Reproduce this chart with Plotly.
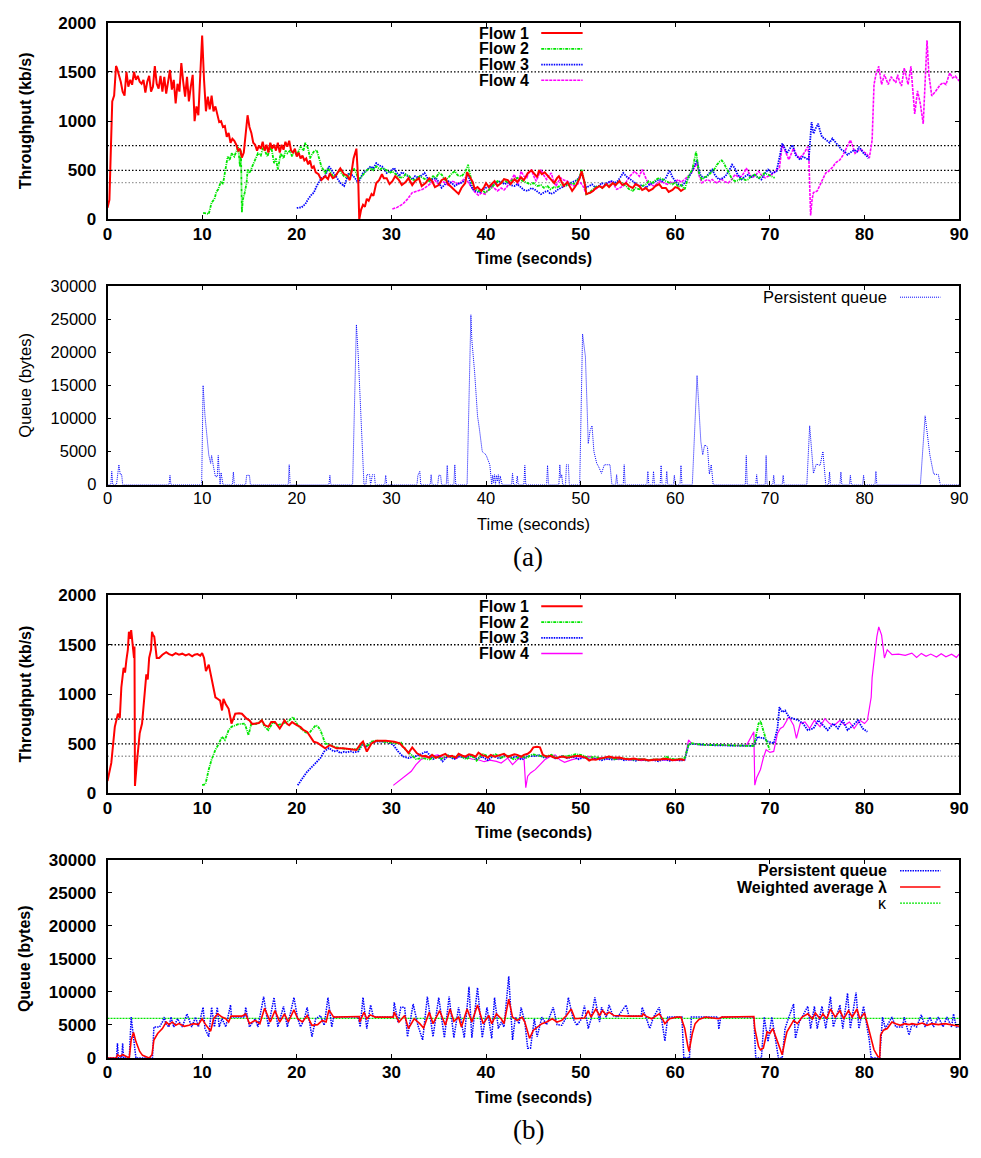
import plotly.graph_objects as go

W, H = 981, 1158

# ---------------------------------------------------------------- data
# fair-share reference levels (kb/s) drawn across the throughput panels
fair_share = [1500, 750, 500, 375]
kappa_level = 6000

x_ticks = [0, 10, 20, 30, 40, 50, 60, 70, 80, 90]
thr_ticks = [0, 500, 1000, 1500, 2000]
queue_ticks = [0, 5000, 10000, 15000, 20000, 25000, 30000]

# (a) throughput per flow: (time s, kb/s)
flow1_a = [(0.0,120),(0.2,200),(0.35,700),(0.5,1200),(0.7,1260),(0.9,1560),(1.0,1540),(1.2,1480),(1.4,1400),(1.6,1300),(1.8,1260),(2.0,1500),(2.2,1350),(2.4,1420),(2.6,1370),(2.8,1500),(3.0,1420),(3.2,1460),(3.4,1400),(3.6,1380),(3.8,1420),(4.0,1290),(4.2,1400),(4.4,1460),(4.6,1300),(4.8,1350),(5.0,1560),(5.2,1380),(5.4,1330),(5.6,1460),(5.8,1300),(6.0,1450),(6.2,1280),(6.4,1400),(6.6,1520),(6.8,1320),(7.0,1420),(7.2,1180),(7.4,1380),(7.6,1300),(7.8,1590),(8.0,1400),(8.2,1250),(8.4,1450),(8.6,1200),(8.8,1350),(9.0,1470),(9.2,1000),(9.4,1150),(9.6,1060),(9.8,1400),(10.0,1870),(10.2,1420),(10.4,1100),(10.6,1250),(10.8,1120),(11.0,1260),(11.2,1100),(11.4,1150),(11.6,1050),(11.8,990),(12.0,1000),(12.2,940),(12.4,950),(12.6,840),(12.8,880),(13.0,780),(13.2,820),(13.4,800),(13.6,760),(13.8,700),(14.0,720),(14.2,630),(14.4,680),(14.6,900),(14.8,1060),(15.0,940),(15.2,880),(15.4,780),(15.6,760),(15.8,700),(16.0,750),(16.2,720),(16.4,790),(16.6,700),(16.8,760),(17.0,680),(17.2,780),(17.4,720),(17.6,760),(17.8,700),(18.0,780),(18.2,680),(18.4,760),(18.6,710),(18.8,790),(19.0,740),(19.2,800),(19.4,700),(19.6,680),(19.8,720),(20.0,640),(20.2,680),(20.4,620),(20.6,650),(20.8,600),(21.0,620),(21.2,560),(21.4,600),(21.6,520),(21.8,540),(22.0,480),(22.3,460),(22.6,400),(23.0,440),(23.3,410),(23.5,470),(23.8,420),(24.0,430),(24.3,470),(24.6,520),(25.0,460),(25.3,450),(25.6,400),(25.8,490),(26.0,620),(26.3,720),(26.5,380),(26.6,0),(26.8,100),(27.0,150),(27.2,130),(27.4,210),(27.6,190),(27.9,260),(28.1,240),(28.4,370),(28.7,400),(29.0,460),(29.2,420),(29.5,420),(29.8,360),(30.1,390),(30.4,440),(30.8,400),(31.1,350),(31.5,380),(31.8,420),(32.2,350),(32.5,390),(32.9,420),(33.2,340),(33.6,370),(34.0,420),(34.3,390),(34.6,330),(35.0,350),(35.3,400),(35.7,420),(36.0,360),(36.4,320),(36.7,300),(37.1,260),(37.4,320),(37.8,370),(38.0,480),(38.3,430),(38.6,380),(38.8,310),(39.1,330),(39.5,290),(39.8,330),(40.0,370),(40.3,330),(40.5,350),(40.9,390),(41.2,340),(41.6,370),(41.9,410),(42.3,400),(42.6,360),(43.0,410),(43.3,380),(43.7,430),(44.0,400),(44.4,470),(44.8,500),(45.1,470),(45.4,430),(45.6,500),(45.9,460),(46.2,480),(46.5,450),(46.7,420),(47.0,400),(47.2,370),(47.5,420),(47.7,440),(48.0,380),(48.2,340),(48.6,380),(48.9,330),(49.1,290),(49.4,330),(49.6,360),(49.9,420),(50.1,490),(50.4,380),(50.6,260),(51.0,270),(51.3,290),(51.6,320),(52.0,340),(52.3,320),(52.7,360),(53.0,330),(53.4,370),(53.7,350),(54.1,390),(54.4,350),(54.8,370),(55.1,340),(55.5,320),(55.8,360),(56.2,340),(56.5,300),(56.9,320),(57.2,290),(57.6,310),(57.9,340),(58.3,360),(58.6,320),(59.0,320),(59.3,280),(59.7,300),(60.0,330),(60.3,320),(60.6,290),(60.9,310)]

flow2_a = [(10.1,67),(10.4,60),(10.7,57),(11.0,173),(11.3,207),(11.5,280),(11.7,307),(12.0,390),(12.2,360),(12.4,473),(12.7,640),(12.9,600),(13.1,673),(13.4,640),(13.6,700),(13.8,740),(14.0,540),(14.1,707),(14.2,73),(14.3,200),(14.5,273),(14.7,373),(14.8,507),(15.0,470),(15.3,540),(15.6,600),(15.9,673),(16.2,650),(16.4,720),(16.6,707),(16.9,640),(17.1,700),(17.3,740),(17.6,573),(17.8,620),(18.0,507),(18.3,673),(18.6,620),(18.8,700),(19.0,673),(19.3,700),(19.5,640),(19.7,707),(20.0,650),(20.2,700),(20.4,740),(20.7,700),(20.9,780),(21.2,720),(21.4,623),(21.6,660),(21.8,690),(22.1,707),(22.3,640),(22.6,540),(23.0,473),(23.3,520),(23.5,490),(23.9,430),(24.2,457),(24.5,500),(24.7,473),(25.0,440),(25.3,423),(25.6,470),(26.0,523),(26.3,470),(26.5,407),(26.8,430),(27.0,457),(27.4,500),(27.8,523),(28.1,500),(28.4,540),(28.8,510),(29.1,523),(29.5,500),(29.8,473),(30.1,490),(30.5,457),(30.8,430),(31.2,423),(31.5,460),(31.9,440),(32.2,400),(32.6,407),(33.0,440),(33.3,423),(33.7,400),(34.0,390),(34.4,440),(34.7,423),(35.0,470),(35.3,457),(35.7,400),(36.0,423),(36.4,470),(36.7,490),(37.0,450),(37.4,440),(37.8,480),(38.1,557),(38.4,420),(38.6,340),(38.9,310),(39.2,290),(39.6,300),(39.9,273),(40.3,300),(40.6,323),(40.9,360),(41.2,390),(41.6,370),(41.9,407),(42.2,380),(42.6,390),(43.0,410),(43.3,423),(43.7,400),(44.0,390),(44.4,370),(44.7,357),(45.0,370),(45.4,340),(45.8,350),(46.1,323),(46.5,340),(46.8,307),(47.2,330),(47.5,323),(47.9,350),(48.2,357),(48.6,340),(48.9,373),(49.3,360),(49.6,390),(49.9,430),(50.1,507),(50.4,380),(50.6,257),(51.0,280),(51.3,307),(51.6,330),(52.0,340),(52.3,320),(52.7,357),(53.0,340),(53.4,373),(53.7,350),(54.1,390),(54.4,370),(54.8,340),(55.1,310),(55.5,290),(55.8,320),(56.2,307),(56.5,340),(56.9,357),(57.2,390),(57.6,373),(57.9,400),(58.3,423),(58.6,410),(59.0,390),(59.3,370),(59.7,357),(60.0,380),(60.3,330),(60.6,350),(61.0,307),(61.4,440),(61.8,507),(62.0,600),(62.2,690),(62.5,473),(62.8,407),(63.1,430),(63.4,440),(63.7,470),(63.9,490),(64.2,520),(64.4,557),(64.7,590),(64.9,600),(65.1,580),(65.3,540),(65.6,480),(65.8,440),(66.0,410),(66.3,390),(66.7,400),(67.0,423),(67.4,400),(67.7,407),(68.0,440),(68.4,457),(68.8,420),(69.1,440),(69.4,470),(69.8,457),(70.1,440),(70.5,423)]

flow3_a = [(20.0,117),(20.5,123),(20.9,157),(21.2,207),(21.6,257),(21.8,273),(22.1,340),(22.3,373),(22.6,420),(23.0,440),(23.4,540),(23.9,473),(24.3,420),(24.6,373),(25.0,340),(25.5,473),(26.0,440),(26.5,373),(27.0,473),(27.4,500),(27.8,540),(28.1,520),(28.4,573),(28.7,550),(29.0,540),(29.5,473),(30.0,500),(30.3,523),(30.8,440),(31.1,480),(31.5,457),(31.9,430),(32.2,407),(32.5,440),(32.9,423),(33.2,450),(33.5,473),(34.0,390),(34.3,410),(34.7,423),(35.0,380),(35.3,323),(35.7,360),(36.0,390),(36.4,370),(36.7,340),(37.0,360),(37.4,373),(37.8,400),(38.1,457),(38.4,350),(38.6,307),(38.9,290),(39.3,273),(39.6,300),(40.0,323),(40.5,340),(40.9,357),(41.2,380),(41.6,390),(41.9,360),(42.3,373),(42.6,350),(43.0,340),(43.3,360),(43.7,323),(44.0,300),(44.4,290),(44.8,320),(45.1,307),(45.5,280),(45.8,257),(46.2,280),(46.5,290),(46.8,260),(47.2,273),(47.5,300),(47.9,323),(48.2,340),(48.6,357),(48.9,370),(49.3,390),(49.6,400),(49.8,423),(50.1,473),(50.4,380),(50.6,323),(50.9,340),(51.2,357),(51.5,330),(51.9,340),(52.2,370),(52.6,357),(52.9,380),(53.3,390),(53.6,370),(53.9,390),(54.2,430),(54.5,473),(54.8,440),(55.0,423),(55.3,400),(55.5,390),(55.9,360),(56.2,340),(56.5,350),(56.9,323),(57.2,350),(57.6,373),(57.9,390),(58.3,407),(58.6,390),(59.0,423),(59.4,500),(59.7,430),(60.0,390),(60.3,360),(60.7,340),(61.0,380),(61.4,423),(61.8,500),(62.1,560),(62.3,607),(62.5,500),(62.7,440),(63.0,430),(63.2,423),(63.5,460),(63.9,507),(64.2,450),(64.6,407),(65.0,420),(65.3,440),(65.7,500),(66.0,557),(66.3,520),(66.5,473),(66.8,430),(67.0,407),(67.4,440),(67.7,457),(68.0,430),(68.4,457),(68.7,430),(69.1,407),(69.4,460),(69.8,507),(70.2,470),(70.7,490),(71.1,673),(71.3,773),(71.6,720),(71.8,673),(72.1,720),(72.4,757),(72.7,657),(73.0,630),(73.2,607),(73.5,640),(73.8,623),(74.1,607),(74.4,990),(74.6,873),(74.8,920),(75.1,973),(75.3,900),(75.5,840),(75.8,820),(76.0,807),(76.3,780),(76.6,823),(76.9,790),(77.1,773),(77.4,740),(77.6,707),(77.9,690),(78.2,657),(78.5,680),(78.9,707),(79.2,690),(79.4,740),(79.7,700),(79.9,673),(80.2,650),(80.4,623)]

flow4_a = [(30.1,107),(30.6,123),(31.2,157),(31.7,207),(32.2,273),(32.8,290),(33.3,307),(33.8,340),(34.3,373),(34.6,400),(35.0,357),(35.3,390),(35.7,373),(36.0,350),(36.4,390),(36.7,380),(37.1,357),(37.4,390),(37.8,423),(38.1,380),(38.5,323),(38.8,280),(39.2,247),(39.5,270),(39.9,257),(40.2,300),(40.6,340),(40.9,310),(41.2,290),(41.6,320),(41.9,300),(42.2,330),(42.5,373),(43.0,457),(43.2,400),(43.4,357),(43.7,490),(44.0,440),(44.3,423),(44.5,470),(44.8,507),(45.0,450),(45.3,390),(45.6,470),(45.8,507),(46.1,450),(46.4,407),(46.6,440),(46.9,473),(47.1,400),(47.4,340),(47.6,380),(47.9,423),(48.2,400),(48.6,390),(48.9,360),(49.3,340),(49.6,360),(50.0,373),(50.3,330),(50.6,257),(50.9,270),(51.3,290),(51.6,310),(52.0,340),(52.3,330),(52.7,357),(53.0,370),(53.3,390),(53.6,340),(53.8,307),(54.1,320),(54.5,340),(54.8,380),(55.2,440),(55.5,470),(55.7,490),(56.0,460),(56.2,440),(56.5,507),(56.8,430),(57.1,373),(57.4,350),(57.8,340),(58.1,370),(58.5,390),(58.8,370),(59.2,357),(59.5,380),(59.9,373),(60.3,407),(60.6,380),(60.9,400),(61.4,440),(61.7,470),(61.9,507),(62.3,573),(62.5,450),(62.8,373),(63.1,390),(63.4,407),(63.7,390),(63.9,407),(64.2,380),(64.4,373),(64.7,390),(64.9,407),(65.3,380),(65.6,373),(66.0,410),(66.3,457),(66.7,430),(67.0,440),(67.3,480),(67.5,523),(67.8,470),(68.1,423),(68.5,450),(68.8,490),(69.1,450),(69.5,423),(69.8,440),(70.2,457),(70.5,480),(70.7,507),(71.0,523),(71.3,757),(71.6,700),(71.8,657),(72.0,607),(72.3,680),(72.5,723),(72.8,660),(73.1,623),(73.4,650),(73.6,673),(74.0,740),(74.1,673),(74.3,40),(74.45,200),(74.6,273),(75.0,290),(75.4,373),(75.7,430),(75.9,473),(76.2,490),(76.4,507),(76.7,540),(76.9,573),(77.2,590),(77.4,607),(77.7,650),(78.0,707),(78.3,760),(78.5,807),(78.7,760),(79.0,673),(79.3,700),(79.7,707),(80.0,680),(80.2,673),(80.5,623),(80.8,807),(81.0,1373),(81.2,1473),(81.5,1557),(81.8,1373),(82.1,1473),(82.3,1420),(82.5,1373),(82.8,1450),(83.0,1423),(83.3,1390),(83.5,1473),(83.7,1400),(83.9,1357),(84.2,1540),(84.4,1450),(84.6,1373),(84.9,1557),(85.1,1300),(85.3,1073),(85.6,1307),(85.9,1173),(86.2,973),(86.4,1473),(86.6,1823),(86.8,1473),(87.1,1257),(87.4,1290),(87.6,1320),(87.8,1340),(88.0,1370),(88.3,1390),(88.6,1373),(88.8,1430),(89.0,1490),(89.3,1440),(89.6,1457),(89.8,1430),(90.0,1407)]

# (a) persistent queue: (time s, bytes)
queue_a = [(0,0),(0.35,0),(0.45,2000),(0.55,0),(0.95,0),(1.1,2000),(1.2,3000),(1.35,1500),(1.5,1500),(1.6,0),(6.5,0),(6.6,1400),(6.7,0),(9.95,0),(10.1,15000),(10.3,10400),(10.5,6900),(10.7,4500),(10.9,3200),(11.0,4400),(11.2,2700),(11.4,1200),(11.6,1200),(11.7,4400),(11.8,2000),(11.9,0),(12.0,1800),(12.2,0),(13.2,0),(13.3,1900),(13.4,0),(14.6,0),(14.7,1400),(15.0,1400),(15.1,0),(19.1,0),(19.2,3000),(19.3,0),(23.4,0),(23.5,1400),(23.6,0),(25.9,0),(26.1,12000),(26.3,24200),(26.5,19400),(26.8,9400),(27.1,0),(27.3,0),(27.4,1500),(27.7,1500),(27.8,0),(28.0,1500),(28.2,1500),(28.3,0),(29.3,0),(29.4,1400),(29.5,0),(32.7,0),(32.8,1400),(33.0,2000),(33.1,0),(34.1,0),(34.2,1500),(34.3,0),(34.9,0),(35.0,1400),(35.2,1400),(35.3,0),(35.8,0),(35.9,2900),(36.0,0),(36.6,0),(36.7,3000),(36.8,0),(38.0,0),(38.4,25700),(38.5,21900),(38.8,16900),(39.1,10400),(39.3,8400),(39.6,5000),(40.0,4500),(40.4,3000),(40.6,0),(40.7,1400),(40.8,300),(40.9,1500),(41.0,0),(41.1,1400),(41.2,500),(41.3,1500),(41.4,0),(41.5,1300),(41.6,600),(41.7,0),(42.7,0),(42.8,1700),(42.9,0),(43.2,0),(43.3,1300),(43.4,0),(44.0,0),(44.1,2900),(44.2,0),(46.4,0),(46.5,2900),(46.6,0),(47.7,0),(47.8,3000),(47.9,1000),(48.0,1500),(48.1,0),(48.4,0),(48.5,3000),(48.7,3000),(48.8,0),(49.9,0),(50.2,22800),(50.5,19400),(50.7,10900),(50.8,6200),(51.0,8200),(51.2,8900),(51.4,5000),(51.7,3200),(51.9,2700),(52.2,1700),(52.5,3000),(52.9,3000),(53.1,3000),(53.3,0),(53.7,0),(53.8,1500),(53.9,0),(54.5,0),(54.6,3000),(54.7,0),(57.0,0),(57.1,2000),(57.2,0),(57.6,0),(57.7,2000),(57.8,0),(58.4,0),(58.5,2900),(58.6,0),(59.0,0),(59.1,2000),(59.2,0),(59.8,0),(59.9,1400),(60.0,0),(60.5,0),(60.6,2900),(60.7,0),(61.8,0),(62.3,16500),(62.5,10900),(62.7,6500),(62.9,4500),(63.1,6000),(63.4,5700),(63.6,1600),(63.8,3000),(64.0,0),(67.4,0),(67.5,4400),(67.6,0),(68.5,0),(68.6,1500),(68.7,0),(69.5,0),(69.6,4400),(69.7,0),(70.3,0),(70.4,1400),(70.5,0),(71.3,0),(71.4,1400),(71.5,0),(73.9,0),(74.2,8900),(74.6,1700),(74.9,3100),(75.3,2900),(75.6,5000),(75.9,0),(76.2,0),(76.3,1900),(76.4,0),(77.4,0),(77.5,1900),(77.6,0),(78.4,0),(78.5,1400),(78.6,0),(79.8,0),(79.9,1400),(80.0,0),(81.1,0),(81.2,2000),(81.3,0),(85.9,0),(86.4,10400),(86.7,6500),(86.9,4500),(87.3,1600),(87.8,1500),(88.0,0),(90.0,0)]

# (b) throughput per flow: (time s, kb/s)
flow1_b = [(0,126),(0.4,308),(0.77,672),(1.1,804),(1.3,760),(1.46,1069),(1.7,1267),(1.85,1220),(2.0,1350),(2.15,1450),(2.26,1631),(2.4,1560),(2.5,1648),(2.68,1433),(2.8,1367),(2.85,1482),(2.9,76),(3.1,308),(3.4,606),(3.65,705),(3.9,970),(4.1,1201),(4.25,1150),(4.4,1367),(4.6,1450),(4.7,1631),(4.8,1600),(4.94,1582),(5.2,1367),(5.46,1367),(5.8,1400),(6.2,1426),(6.5,1405),(6.85,1393),(7.2,1415),(7.55,1400),(7.9,1410),(8.25,1393),(8.6,1405),(8.95,1383),(9.2,1400),(9.5,1406),(9.8,1390),(10.0,1416),(10.2,1367),(10.4,1234),(10.7,1300),(11.0,1168),(11.4,970),(11.7,950),(11.9,936),(12.1,837),(12.25,953),(12.5,900),(12.8,854),(13.1,705),(13.3,760),(13.5,804),(13.9,810),(14.2,804),(14.7,754),(15.0,738),(15.3,700),(15.6,705),(16.0,710),(16.3,738),(16.6,690),(17.0,672),(17.3,720),(17.7,721),(18.0,680),(18.2,655),(18.5,700),(18.7,738),(19.0,700),(19.2,688),(19.5,720),(19.7,705),(20.0,690),(20.4,670),(20.7,640),(21.1,620),(21.5,560),(21.8,521),(22.2,510),(22.5,488),(23.0,455),(23.5,488),(24.2,455),(24.9,455),(25.6,445),(26.3,438),(26.8,505),(27.0,523),(27.4,422),(27.9,505),(28.4,531),(29.4,531),(30.3,521),(30.9,506),(31.2,471),(31.4,457),(31.8,407),(31.9,422),(32.2,465),(32.7,405),(33.3,374),(33.6,379),(34.0,360),(34.3,389),(34.7,360),(35.0,372),(35.4,390),(35.7,399),(36.0,370),(36.4,379),(36.8,360),(37.1,399),(37.5,380),(37.8,372),(38.2,395),(38.5,389),(38.9,370),(39.2,412),(39.6,385),(39.9,379),(40.2,360),(40.5,389),(40.9,370),(41.2,379),(41.6,395),(41.9,399),(42.3,370),(42.6,379),(43.0,395),(43.3,389),(43.7,370),(44.0,389),(44.4,400),(44.7,422),(45.0,465),(45.4,470),(45.7,465),(46.0,389),(46.4,370),(46.8,379),(47.1,365),(47.5,356),(47.8,368),(48.2,372),(48.5,360),(48.9,366),(49.3,375),(49.9,379),(50.3,365),(50.6,356),(50.9,332),(51.2,345),(51.6,339),(51.9,350),(52.3,356),(52.6,365),(53.0,372),(53.5,360),(54.1,362),(54.6,350),(55.1,346),(55.6,352),(56.2,339),(56.7,345),(57.2,332),(57.8,342),(58.3,339),(58.8,350),(59.3,346),(59.7,335),(60.0,339),(60.6,345),(61.0,335)]

flow2_b = [(10.0,83),(10.35,93),(10.7,242),(11.0,341),(11.4,440),(11.7,490),(12.1,572),(12.4,539),(12.8,639),(13.1,672),(13.8,698),(14.5,705),(14.9,589),(15.2,705),(15.7,700),(16.3,738),(16.6,672),(17.0,639),(17.5,721),(18.0,688),(18.5,705),(19.0,721),(19.6,771),(20.1,688),(20.6,639),(21.1,606),(21.4,620),(21.7,655),(22.0,688),(22.2,680),(22.5,639),(23.0,506),(23.4,490),(23.9,473),(24.6,457),(25.3,447),(26.0,447),(26.5,440),(27.0,506),(27.4,473),(27.9,523),(28.4,533),(29.1,523),(30.0,513),(30.5,506),(31.0,513),(31.5,440),(32.1,390),(32.6,347),(33.3,357),(34.0,341),(34.6,370),(35.3,350),(36.0,385),(36.6,360),(37.2,390),(37.9,345),(38.5,380),(39.0,330),(39.6,400),(40.3,370),(41.0,395),(41.6,360),(42.3,380),(43.0,340),(43.6,375),(44.3,360),(44.9,395),(45.5,380),(46.2,370),(46.9,390),(47.5,360),(48.2,375),(48.9,380),(49.5,395),(50.2,385),(50.8,360),(51.5,370),(52.2,350),(52.9,365),(53.6,345),(54.3,355),(55.0,350),(55.7,340),(56.4,350),(57.1,335),(57.8,345),(58.5,340),(59.0,374),(59.5,350),(60.2,345),(61.0,357),(61.4,490),(61.7,506),(62.5,495),(63.5,488),(64.5,490),(65.5,485),(66.5,482),(67.5,480),(68.3,480),(68.8,705),(69.0,731),(69.3,622),(69.6,539),(70.0,433)]

flow3_b = [(20.1,83),(20.4,126),(21.0,208),(21.5,258),(22.0,308),(22.5,357),(22.9,424),(23.4,457),(23.9,424),(24.3,430),(24.6,407),(25.0,420),(25.3,414),(25.7,425),(26.0,414),(26.5,424),(26.9,490),(27.4,473),(27.7,500),(28.1,523),(28.8,523),(29.5,523),(30.2,490),(30.7,424),(31.2,374),(31.8,357),(32.5,374),(33.0,390),(33.7,424),(34.4,347),(35.0,375),(35.4,323),(36.0,380),(36.6,345),(37.2,375),(37.8,355),(38.4,390),(39.0,350),(39.6,370),(40.2,335),(40.8,380),(41.4,350),(42.0,385),(42.6,360),(43.2,370),(43.8,340),(44.4,380),(45.0,375),(45.6,385),(46.2,360),(46.8,380),(47.4,350),(48.0,375),(48.6,355),(49.2,370),(49.8,345),(50.4,365),(51.0,340),(51.6,355),(52.2,335),(52.8,350),(53.4,340),(54.0,355),(54.6,335),(55.2,345),(55.8,330),(56.4,345),(57.0,330),(57.6,340),(58.2,325),(58.8,345),(59.4,330),(60.0,340),(60.6,330),(61.0,340),(61.4,490),(61.7,500),(62.5,492),(63.5,488),(64.5,485),(65.5,482),(66.5,480),(67.5,478),(68.3,480),(68.7,572),(69.0,560),(69.3,560),(69.8,523),(70.4,506),(70.8,655),(71.0,870),(71.3,821),(71.6,837),(72.0,771),(72.5,754),(73.0,738),(73.5,705),(74.0,639),(74.6,655),(75.1,738),(75.6,688),(76.1,639),(76.7,705),(77.2,655),(77.7,738),(78.2,639),(78.8,688),(79.3,738),(79.8,655),(80.3,622)]

flow4_b = [(30.2,81),(30.8,124),(31.4,174),(32.1,223),(32.6,290),(33.1,339),(33.7,365),(34.2,372),(34.9,389),(35.6,356),(36.2,380),(36.8,350),(37.4,385),(38.0,360),(38.6,345),(39.2,340),(39.8,320),(40.4,335),(41.1,323),(41.6,306),(42.3,356),(42.8,290),(43.3,339),(44.0,372),(44.2,58),(44.4,174),(44.7,207),(45.2,240),(45.7,290),(46.2,339),(46.8,372),(47.3,389),(47.8,339),(48.3,314),(49.1,341),(49.8,357),(50.4,370),(51.0,374),(51.6,347),(52.2,360),(52.8,345),(53.4,355),(54.0,340),(54.6,350),(55.2,335),(55.8,345),(56.4,330),(57.0,340),(57.6,330),(58.2,345),(58.8,335),(59.4,340),(60.0,330),(60.6,340),(61.0,345),(61.4,539),(61.7,506),(62.5,492),(63.5,490),(64.5,487),(65.5,484),(66.5,482),(67.5,480),(68.3,622),(68.4,83),(68.6,159),(69.0,242),(69.3,357),(69.6,440),(70.0,414),(70.4,424),(70.8,606),(71.1,655),(71.4,672),(72.0,771),(72.5,688),(72.8,556),(73.2,705),(73.7,721),(74.2,655),(74.7,738),(75.3,672),(75.8,754),(76.3,705),(76.8,688),(77.4,738),(77.9,688),(78.4,721),(78.9,655),(79.5,738),(80.0,705),(80.3,738),(80.7,970),(80.8,1168),(81.0,1334),(81.3,1582),(81.5,1681),(81.8,1598),(82.1,1367),(82.4,1449),(82.9,1400),(83.6,1406),(84.3,1393),(85.0,1416),(85.5,1373),(86.0,1413),(86.5,1383),(87.0,1406),(87.6,1377),(88.1,1410),(88.6,1378),(89.2,1405),(89.7,1373),(90.0,1405)]

# (b) persistent queue and weighted average lambda: (time s, bytes)
queue_b = [(0,0),(0.95,0),(1.05,2230),(1.15,0),(1.5,0),(1.6,2230),(1.7,0),(2.3,0),(2.5,6190),(2.75,3470),(3.0,0),(4.75,0),(4.9,4700),(5.5,4700),(5.8,5450),(6.0,6190),(6.15,5200),(6.5,4700),(6.7,6190),(7.0,4700),(7.4,5940),(7.9,4700),(8.4,6680),(8.9,4700),(9.3,6190),(9.6,4700),(10.1,7670),(10.3,4460),(10.7,3220),(11.0,7670),(11.3,4700),(11.6,7670),(11.8,4700),(12.1,5940),(12.5,4700),(13.0,8020),(13.1,6200),(14.5,6200),(14.6,7670),(15.0,4700),(15.6,5940),(15.9,4700),(16.5,9300),(17.0,4700),(17.6,9160),(18.0,4700),(18.6,7820),(19.0,4700),(19.7,9160),(20.1,5940),(20.4,4700),(20.8,5940),(21.1,7670),(21.6,3220),(22.0,5940),(22.5,6430),(22.9,4950),(23.3,9160),(23.7,4700),(23.9,6190),(26.5,6190),(26.7,4700),(27.0,9160),(27.4,4460),(27.8,8020),(28.1,6190),(30.2,6190),(30.3,8420),(30.7,5450),(31.0,7670),(31.4,7670),(31.7,3220),(32.3,8170),(32.8,4950),(33.3,2720),(33.8,9300),(34.4,3220),(35.0,9160),(35.6,3070),(36.1,9300),(36.6,3070),(37.1,7670),(37.7,3070),(38.2,10790),(38.5,3070),(39.1,10640),(39.6,3070),(40.1,7670),(40.6,2970),(40.9,9160),(41.3,4460),(41.6,5450),(41.9,4700),(42.4,12380),(42.6,6430),(42.8,2720),(43.1,6190),(43.5,5200),(43.7,7670),(44.1,5450),(44.4,1490),(44.7,1490),(45.1,5940),(45.4,3220),(45.9,6190),(46.4,5050),(47.1,7670),(47.5,5050),(48.0,4950),(48.4,5940),(48.7,9160),(49.2,5940),(49.6,4950),(50.1,5940),(50.4,7920),(50.8,4460),(51.1,5940),(51.5,9160),(52.0,5450),(52.2,7670),(52.7,6190),(53.0,8020),(53.4,6430),(53.9,6190),(54.8,8020),(55.1,6340),(56.4,6340),(56.5,7670),(56.9,6190),(57.3,4460),(57.7,6190),(58.3,7670),(58.6,5450),(58.9,2570),(59.2,6190),(60.7,6190),(60.9,0),(61.5,0),(61.7,6190),(64.5,6190),(64.6,4360),(64.8,6190),(68.3,6190),(68.5,0),(69.1,0),(69.4,6190),(69.8,2480),(70.2,6190),(70.4,4460),(70.9,0),(71.3,0),(71.6,4460),(72.0,6190),(72.5,8170),(72.7,2970),(73.1,5450),(73.4,6190),(74.0,7820),(74.3,4460),(74.7,7820),(75.0,4460),(75.5,7820),(75.9,4460),(76.4,9300),(76.7,4700),(77.4,8020),(77.7,4460),(78.2,9800),(78.5,4460),(79.1,9900),(79.4,4460),(79.9,7820),(80.2,5200),(80.5,2720),(80.7,0),(81.6,0),(81.9,6190),(82.2,4460),(82.9,6190),(83.3,4700),(84.0,4700),(84.2,6190),(84.7,3470),(85.0,5050),(85.5,4700),(86.0,6530),(86.4,4700),(86.9,6190),(87.3,4700),(87.8,6190),(88.3,4700),(88.7,6190),(89.2,4700),(89.4,6680),(89.7,4700),(90.0,4700)]

lambda_b = [(0,0),(0.95,0),(1.05,500),(1.3,250),(1.6,500),(2.0,250),(2.3,0),(2.5,2720),(2.75,3860),(3.0,2480),(3.4,990),(3.7,400),(4.1,100),(4.4,0),(4.7,500),(4.9,2720),(5.3,3710),(5.8,4460),(6.2,5450),(6.5,5050),(6.85,5450),(7.2,4950),(7.55,5200),(8.1,4800),(8.6,4950),(9.1,5200),(9.6,5050),(10.0,5940),(10.3,5200),(10.9,4060),(11.2,5940),(11.65,6680),(12.1,6190),(12.5,5940),(12.8,5450),(13.05,6340),(14.2,6340),(14.6,6680),(15.0,5200),(15.6,5690),(16.1,5200),(16.6,7520),(17.2,5450),(17.7,7180),(18.2,5450),(18.7,6680),(19.1,5450),(19.7,7280),(20.1,5940),(20.6,5450),(21.1,6430),(21.6,4950),(22.2,5050),(22.7,5690),(23.1,5450),(23.4,7280),(23.9,6190),(26.6,6290),(26.65,5450),(27.1,6930),(27.4,5940),(27.75,6530),(28.3,6190),(30.2,6190),(30.3,6930),(30.8,5450),(31.4,6430),(31.8,4460),(32.4,5940),(33.0,5200),(33.4,4550),(34.0,6930),(34.4,5200),(35.1,7180),(35.7,4950),(36.2,7420),(36.6,5550),(37.1,6190),(37.4,4700),(38.0,7420),(38.5,5450),(39.1,8020),(39.7,5200),(40.3,6430),(40.6,5200),(41.1,6680),(41.6,5940),(41.9,5200),(42.4,8910),(42.8,6190),(43.3,5690),(43.8,6190),(44.1,5450),(44.6,2970),(45.0,4210),(45.4,4700),(45.9,5200),(46.4,5450),(47.0,5940),(47.5,5450),(48.0,5690),(48.5,6430),(49.0,7420),(49.4,5940),(49.9,5940),(50.4,6040),(50.8,7180),(51.1,6190),(51.6,7420),(52.0,6430),(52.3,7180),(52.7,6530),(53.0,6930),(53.5,6430),(55.0,6340),(56.5,6340),(56.6,6680),(56.9,6340),(57.5,5940),(57.9,6290),(58.3,6680),(58.6,6040),(58.9,5200),(59.4,5940),(60.1,6190),(60.6,6190),(61.0,4460),(61.3,1980),(61.45,990),(61.8,3710),(62.1,5200),(62.5,5840),(63.2,6190),(64.6,5940),(64.9,6190),(68.3,6290),(68.4,4460),(68.8,1730),(69.0,1240),(69.3,1490),(69.7,3960),(70.0,3710),(70.3,4460),(70.8,2480),(71.2,990),(71.3,500),(71.6,2720),(71.8,3960),(72.2,4950),(72.5,5690),(72.9,5200),(73.4,6190),(74.0,6680),(74.5,5940),(74.8,6830),(75.3,5940),(75.6,6680),(76.0,5940),(76.4,7420),(76.9,6190),(77.4,7180),(77.8,5940),(78.3,7180),(78.7,6190),(79.2,7420),(79.5,5940),(80.0,6830),(80.3,5200),(80.7,2970),(81.0,1240),(81.4,250),(81.6,100),(81.7,3470),(82.0,4210),(82.4,4460),(82.9,5450),(83.3,5200),(83.8,4950),(84.2,5200),(84.7,5050),(85.0,5200),(85.5,5050),(86.1,5300),(86.6,4950),(87.1,5200),(87.8,5050),(88.5,5200),(89.2,5050),(89.9,4850),(90.0,4800)]

kappa_b = [(0, kappa_level), (90, kappa_level)]

# ---------------------------------------------------------------- style
SANS = "Liberation Sans"
SERIF = "Liberation Serif"
RED, GREEN, BLUE, MAGENTA = "#ff0000", "#00e600", "#0000ff", "#ff00ff"


def px(x):
    return x / W


def py(y):
    return 1 - y / H


def cols(pairs):
    return [p[0] for p in pairs], [p[1] for p in pairs]


# panel rectangles in pixels: (top, bottom)
X_LEFT, X_RIGHT = 104, 968
panels = {
    1: (14, 214),
    2: (282, 483.5),
    3: (596, 797.5),
    4: (865, 1066.5),
}
bold_panel = {1: True, 2: False, 3: True, 4: True}

fig = go.Figure()


def line_trace(pairs, n, color, width, dash="solid"):
    t, v = cols(pairs)
    fig.add_trace(go.Scatter(
        x=t, y=v, mode="lines",
        line=dict(color=color, width=width, dash=dash),
        xaxis="x" if n == 1 else f"x{n}",
        yaxis="y" if n == 1 else f"y{n}",
        showlegend=False, hoverinfo="skip"))


DASH_GREEN = "3px,1px,1px,1px"
DASH_BLUE = "1.5px,1px"
DASH_MAG = "3px,1px"

# (a) throughput
line_trace(flow4_a, 1, MAGENTA, 1.6, DASH_MAG)
line_trace(flow3_a, 1, BLUE, 1.8, DASH_BLUE)
line_trace(flow2_a, 1, GREEN, 1.8, DASH_GREEN)
line_trace(flow1_a, 1, RED, 2.0)
# (a) queue
line_trace(queue_a, 2, BLUE, 1.0, "1px,1px")
# (b) throughput
line_trace(flow4_b, 3, MAGENTA, 1.2)
line_trace(flow3_b, 3, BLUE, 1.8, DASH_BLUE)
line_trace(flow2_b, 3, GREEN, 1.8, DASH_GREEN)
line_trace(flow1_b, 3, RED, 2.0)
# (b) queue
line_trace(kappa_b, 4, GREEN, 1.3, "2px,1px")
line_trace(queue_b, 4, BLUE, 1.5, DASH_BLUE)
line_trace(lambda_b, 4, RED, 1.6)

# fair-share reference lines on the throughput panels
for n in (1, 3):
    ya = "y" if n == 1 else f"y{n}"
    xa = "x" if n == 1 else f"x{n}"
    for lvl in fair_share:
        fig.add_shape(type="line", xref=f"{xa} domain", x0=0, x1=1,
                      yref=ya, y0=lvl, y1=lvl, layer="below",
                      line=dict(color="#999999" if lvl == fair_share[-1] else "black",
                                width=1.3, dash="1.5px,2px"))

layout = dict(
    width=W, height=H, margin=dict(l=0, r=0, t=0, b=0),
    paper_bgcolor="white", plot_bgcolor="white", showlegend=False,
)

for n, (top, bot) in panels.items():
    b = bold_panel[n]
    weight = "bold" if b else "normal"
    tick_size = 17 if b else 16.5
    lw = 2 if b else 1.5
    xs = "xaxis" if n == 1 else f"xaxis{n}"
    ys = "yaxis" if n == 1 else f"yaxis{n}"
    xa = "x" if n == 1 else f"x{n}"
    ya = "y" if n == 1 else f"y{n}"
    common = dict(showline=True, linecolor="black", linewidth=lw, mirror="ticks",
                  ticks="inside", ticklen=4, tickwidth=1, tickcolor="black",
                  showgrid=False, zeroline=False, tickformat="d",
                  tickfont=dict(family=SANS, size=tick_size, color="black", weight=weight))
    layout[xs] = dict(domain=[px(X_LEFT), px(X_RIGHT)], range=[0, 90],
                      tickvals=x_ticks, anchor=ya, ticklabelstandoff=-2, **common)
    yt = thr_ticks if n in (1, 3) else queue_ticks
    layout[ys] = dict(domain=[py(bot), py(top)], range=[yt[0], yt[-1]],
                      tickvals=yt, anchor=xa, ticklabelstandoff=6, **common)

fig.update_layout(**layout)

annotations = []
shapes_extra = []


def text(x, y, s, size, weight="bold", xanchor="center", angle=0, family=SANS):
    annotations.append(dict(x=px(x), y=py(y), xref="paper", yref="paper",
                            text=s, showarrow=False, xanchor=xanchor, yanchor="middle",
                            textangle=angle,
                            font=dict(family=family, size=size, color="black", weight=weight)))


def key(x0, x1, y, color, width, dash):
    shapes_extra.append(dict(type="line", xref="paper", yref="paper",
                             x0=px(x0), x1=px(x1), y0=py(y), y1=py(y),
                             line=dict(color=color, width=width, dash=dash)))


# axis titles
for n, (top, bot) in panels.items():
    w = "bold" if bold_panel[n] else "normal"
    size = 16 if bold_panel[n] else 16.5
    text((X_LEFT + X_RIGHT) / 2, bot + 40, "Time (seconds)", size, w)
    ylab = "Throughput (kb/s)" if n in (1, 3) else "Queue (bytes)"
    text(20.5, (top + bot) / 2, ylab, size, w, angle=-90)

# sub-figure captions
text(531, 557, "(a)", 27, "normal", family=SERIF)
text(531, 1140, "(b)", 27, "normal", family=SERIF)

# keys for the throughput panels
flow_keys_a = [("Flow 1", RED, 2.0, "solid"), ("Flow 2", GREEN, 1.8, DASH_GREEN),
               ("Flow 3", BLUE, 1.8, DASH_BLUE), ("Flow 4", MAGENTA, 1.6, DASH_MAG)]
flow_keys_b = [("Flow 1", RED, 2.0, "solid"), ("Flow 2", GREEN, 1.8, DASH_GREEN),
               ("Flow 3", BLUE, 1.8, DASH_BLUE), ("Flow 4", MAGENTA, 1.5, "solid")]
for row0, keys in ((24.5, flow_keys_a), (607.3, flow_keys_b)):
    for i, (lab, c, wdt, d) in enumerate(keys):
        yy = row0 + 16 * i
        text(534, yy, lab, 16, "bold", xanchor="right")
        key(544, 586, yy, c, wdt, d)

# keys for the queue panels
text(897, 293, "Persistent queue", 16.5, "normal", xanchor="right")
key(908, 949, 293, BLUE, 1.0, "1px,1px")

text(897, 876, "Persistent queue", 16, "bold", xanchor="right")
key(908, 949, 876, BLUE, 1.5, DASH_BLUE)
text(897, 892.7, "Weighted average λ", 16, "bold", xanchor="right")
key(908, 949, 892.7, RED, 1.6, "solid")
text(897, 909, "κ", 16, "normal", xanchor="right")
key(908, 949, 909, GREEN, 1.3, "2px,1px")

fig.update_layout(annotations=annotations)
for s in shapes_extra:
    fig.add_shape(**s)

fig.write_html("out.html")
